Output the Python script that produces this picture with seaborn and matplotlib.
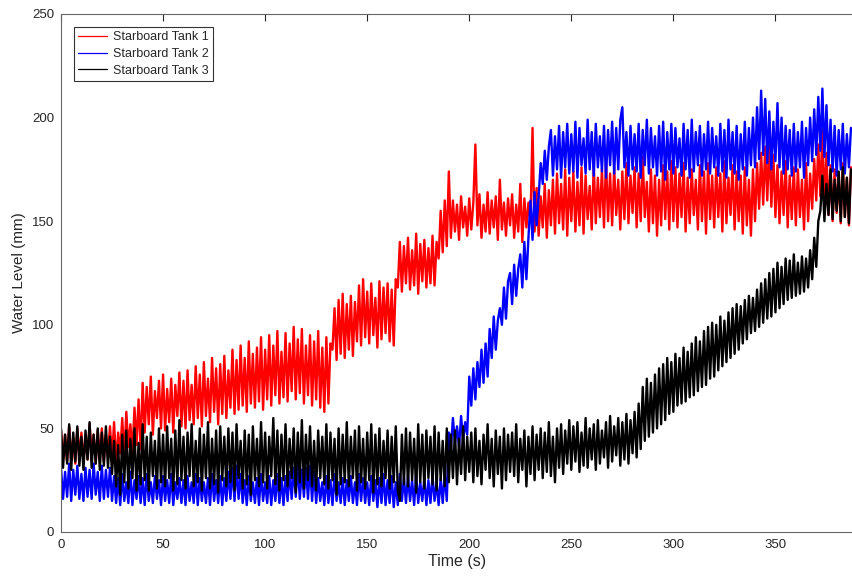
import numpy as np
import matplotlib
matplotlib.use('Agg')
import matplotlib.pyplot as plt
import seaborn as sns

# water level readings, one per second (mm)
tank1 = [
    49, 35, 47, 34, 51, 37, 45, 33, 50, 36,
    48, 34, 46, 35, 52, 38, 47, 33, 49, 36,
    50, 34, 47, 37, 51, 35, 53, 33, 48, 38,
    55, 36, 58, 41, 52, 38, 60, 42, 64, 40,
    72, 48, 70, 52, 75, 47, 68, 55, 73, 50,
    76, 49, 69, 53, 74, 48, 71, 56, 77, 51,
    73, 50, 78, 54, 71, 52, 80, 55, 76, 51,
    82, 56, 74, 53, 84, 58, 79, 52, 81, 57,
    85, 55, 78, 60, 88, 57, 83, 59, 90, 61,
    84, 58, 92, 62, 86, 60, 89, 63, 94, 59,
    88, 64, 95, 61, 90, 66, 97, 62, 87, 65,
    96, 63, 91, 68, 99, 64, 93, 67, 98, 62,
    90, 66, 95, 61, 92, 64, 97, 60, 89, 58,
    94, 62, 91, 88, 108, 83, 112, 86, 115, 84,
    110, 88, 114, 85, 111, 92, 119, 90, 122, 94,
    116, 91, 120, 95, 113, 89, 121, 93, 118, 96,
    120, 92, 117, 90, 122, 118, 140, 116, 138, 120,
    142, 117, 136, 119, 144, 115, 139, 121, 141, 118,
    137, 120, 143, 119, 140, 132, 155, 135, 160, 138,
    174, 142, 160, 145, 158, 141, 162, 147, 157, 143,
    161, 146, 159, 187, 148, 163, 142, 158, 145, 164,
    144, 160, 147, 162, 141, 170, 146, 159, 143, 161,
    148, 163, 142, 158, 145, 168, 140, 161, 147, 159,
    150, 195, 145, 166, 143, 162, 147, 168, 142, 165,
    148, 170, 144, 173, 149, 168, 146, 175, 143, 171,
    150, 174, 145, 169, 148, 176, 144, 172, 151, 167,
    146, 177, 149, 171, 152, 175, 147, 180, 150, 173,
    148, 176, 153, 170, 146, 174, 151, 178, 149, 172,
    154, 176, 147, 173, 150, 181, 152, 169, 145, 175,
    149, 172, 143, 170, 148, 177, 151, 174, 146, 179,
    150, 176, 147, 173, 152, 178, 145, 171, 149, 175,
    153, 170, 146, 177, 150, 174, 144, 178, 151, 172,
    147, 176, 152, 173, 145, 179, 149, 171, 153, 177,
    146, 174, 150, 172, 144, 176, 148, 170, 143, 175,
    150, 178, 156, 183, 158, 186, 160, 189, 157, 182,
    152, 177, 149, 174, 153, 179, 147, 172, 151, 176,
    148, 175, 152, 170, 146, 178, 150, 173, 156, 180,
    160, 187, 162, 194, 158, 183, 153, 177, 150, 175,
    154, 173, 149, 178, 152, 171, 148, 176,
]

tank2 = [
    31, 16, 29, 17, 33, 15, 30, 18, 32, 16,
    28, 15, 31, 17, 30, 16, 33, 18, 29, 15,
    32, 16, 30, 17, 31, 15, 27, 14, 26, 13,
    28, 15, 24, 14, 29, 13, 25, 16, 27, 14,
    26, 13, 28, 15, 24, 14, 27, 16, 25, 13,
    27, 15, 25, 14, 28, 13, 24, 16, 26, 14,
    25, 13, 27, 15, 24, 14, 28, 13, 26, 15,
    24, 14, 26, 13, 28, 15, 25, 14, 27, 13,
    26, 15, 29, 16, 31, 15, 32, 16, 28, 14,
    25, 13, 27, 15, 24, 14, 26, 13, 28, 15,
    24, 14, 27, 13, 25, 15, 28, 14, 26, 13,
    27, 15, 29, 16, 31, 17, 32, 16, 30, 17,
    31, 16, 32, 15, 29, 14, 26, 15, 24, 13,
    27, 14, 25, 13, 28, 15, 24, 14, 26, 13,
    25, 15, 27, 14, 24, 13, 28, 15, 26, 14,
    24, 13, 27, 15, 25, 12, 26, 14, 28, 13,
    25, 14, 27, 12, 24, 13, 28, 15, 26, 14,
    27, 15, 25, 13, 28, 14, 24, 15, 26, 13,
    25, 14, 27, 15, 24, 13, 26, 14, 28, 15,
    48, 40, 55, 43, 51, 41, 56, 44, 53, 47,
    75, 61, 79, 64, 82, 70, 88, 72, 91, 75,
    98, 84, 104, 88, 102, 108, 100, 118, 103, 121,
    125, 110, 129, 114, 127, 134, 118, 140, 122, 142,
    160, 141, 164, 148, 162, 178, 168, 184, 170, 186,
    194, 172, 191, 175, 196, 171, 193, 176, 197, 173,
    192, 174, 198, 171, 195, 177, 190, 173, 199, 175,
    193, 172, 197, 176, 191, 174, 196, 171, 194, 177,
    198, 173, 195, 175, 199, 205, 176, 193, 172, 196,
    175, 192, 174, 197, 171, 194, 177, 199, 173, 195,
    176, 191, 172, 196, 174, 198, 170, 193, 175, 197,
    173, 195, 176, 190, 172, 197, 175, 194, 171, 199,
    174, 193, 177, 196, 172, 192, 175, 198, 173, 195,
    176, 191, 172, 197, 174, 194, 171, 199, 175, 193,
    173, 196, 170, 192, 175, 198, 172, 195, 177, 200,
    176, 205, 180, 213, 182, 209, 178, 203, 175, 198,
    179, 207, 176, 200, 173, 196, 175, 194, 172, 197,
    174, 193, 176, 198, 171, 195, 177, 200, 179, 204,
    182, 210, 184, 214, 181, 206, 177, 199, 174, 196,
    172, 194, 175, 197, 173, 192, 176, 195,
]

tank3 = [
    50, 31, 47, 33, 52, 30, 48, 34, 51, 32,
    46, 30, 49, 35, 53, 31, 47, 33, 50, 30,
    48, 32, 51, 31, 46, 28, 44, 22, 42, 18,
    47, 24, 49, 21, 45, 26, 50, 20, 43, 23,
    52, 25, 46, 20, 48, 27, 44, 21, 50, 24,
    47, 22, 51, 26, 45, 20, 49, 23, 54, 25,
    46, 21, 48, 27, 52, 22, 44, 24, 50, 20,
    47, 26, 53, 21, 45, 23, 49, 19, 51, 25,
    46, 22, 50, 24, 48, 20, 52, 26, 44, 21,
    49, 23, 47, 18, 51, 25, 45, 22, 53, 24,
    48, 21, 46, 27, 55, 23, 49, 20, 47, 25,
    52, 22, 45, 26, 50, 19, 48, 24, 54, 21,
    47, 25, 51, 22, 44, 20, 49, 26, 46, 23,
    52, 21, 48, 25, 45, 18, 50, 23, 47, 24,
    53, 22, 46, 26, 49, 20, 51, 24, 45, 21,
    48, 25, 52, 19, 47, 23, 50, 22, 44, 26,
    49, 21, 46, 24, 51, 20, 15, 47, 23, 50,
    22, 48, 25, 45, 19, 52, 24, 47, 21, 49,
    26, 46, 23, 51, 20, 48, 25, 44, 22, 50,
    24, 47, 26, 49, 23, 45, 28, 51, 25, 46,
    29, 48, 24, 50, 27, 44, 23, 47, 30, 52,
    26, 45, 22, 49, 28, 46, 21, 50, 25, 47,
    29, 48, 27, 52, 24, 45, 30, 49, 22, 46,
    28, 51, 25, 47, 30, 50, 26, 48, 29, 53,
    27, 46, 24, 50, 31, 52, 28, 49, 33, 54,
    30, 51, 34, 53, 29, 48, 32, 55, 31, 50,
    35, 52, 30, 54, 33, 49, 36, 53, 31, 56,
    34, 51, 37, 55, 32, 53, 35, 57, 33, 54,
    38, 58, 36, 62, 40, 70, 44, 74, 46, 72,
    48, 76, 50, 79, 52, 81, 54, 84, 57, 82,
    58, 86, 61, 84, 62, 89, 63, 87, 65, 91,
    66, 94, 68, 92, 70, 97, 71, 99, 74, 101,
    75, 100, 78, 104, 80, 102, 82, 106, 84, 108,
    86, 110, 88, 109, 91, 112, 93, 114, 96, 113,
    97, 117, 99, 120, 101, 122, 103, 125, 104, 127,
    106, 130, 108, 128, 110, 132, 112, 131, 113, 134,
    114, 130, 115, 133, 116, 132, 118, 136, 122, 142,
    128, 150, 155, 172, 150, 168, 153, 175, 151, 170,
    155, 174, 150, 176, 152, 171, 149, 175,
]

names = ['Starboard Tank 1', 'Starboard Tank 2', 'Starboard Tank 3']
colors = ['#ff0000', '#0000ff', '#000000']

sns.set_style('white')
plt.rcParams['font.family'] = ['Liberation Sans', 'DejaVu Sans']

fig = plt.figure(figsize=(8.53, 5.77), dpi=100)
ax = fig.add_axes([61 / 853, 1 - 532 / 577, 792 / 853, 518 / 577])

# wide lines so the 1 s zig-zag reads as a dense noisy band
for vals, name, c in zip([tank1, tank2, tank3], names, colors):
    t = np.arange(len(vals))
    sns.lineplot(x=t, y=vals, color=c, linewidth=1.7, label=name, ax=ax,
                 estimator=None, sort=False)

ax.set_xlim(0, 388)
ax.set_ylim(0, 250)
ax.set_xticks(range(0, 351, 50))
ax.set_yticks(range(0, 251, 50))
ax.tick_params(direction='in', length=5, width=0.8, top=True, right=False,
               labelsize=9.5, colors='#262626', pad=5)
for side in ['top', 'left', 'bottom']:
    ax.spines[side].set_color('#666666')
    ax.spines[side].set_linewidth(0.8)
ax.spines['right'].set_visible(False)

ax.set_xlabel('Time (s)', fontsize=11.5, color='#262626', labelpad=2)
ax.set_ylabel('Water Level (mm)', fontsize=11, color='#262626', labelpad=4)

leg = ax.legend(loc='upper left', bbox_to_anchor=(0.016, 0.975), borderaxespad=0,
                fontsize=9, frameon=True, fancybox=False, edgecolor='black',
                handlelength=2.3, labelspacing=0.38, borderpad=0.35, handletextpad=0.5)
leg.get_frame().set_linewidth(0.8)
for line in leg.get_lines():
    line.set_linewidth(0.9)

plt.savefig('out.png', dpi=100)
